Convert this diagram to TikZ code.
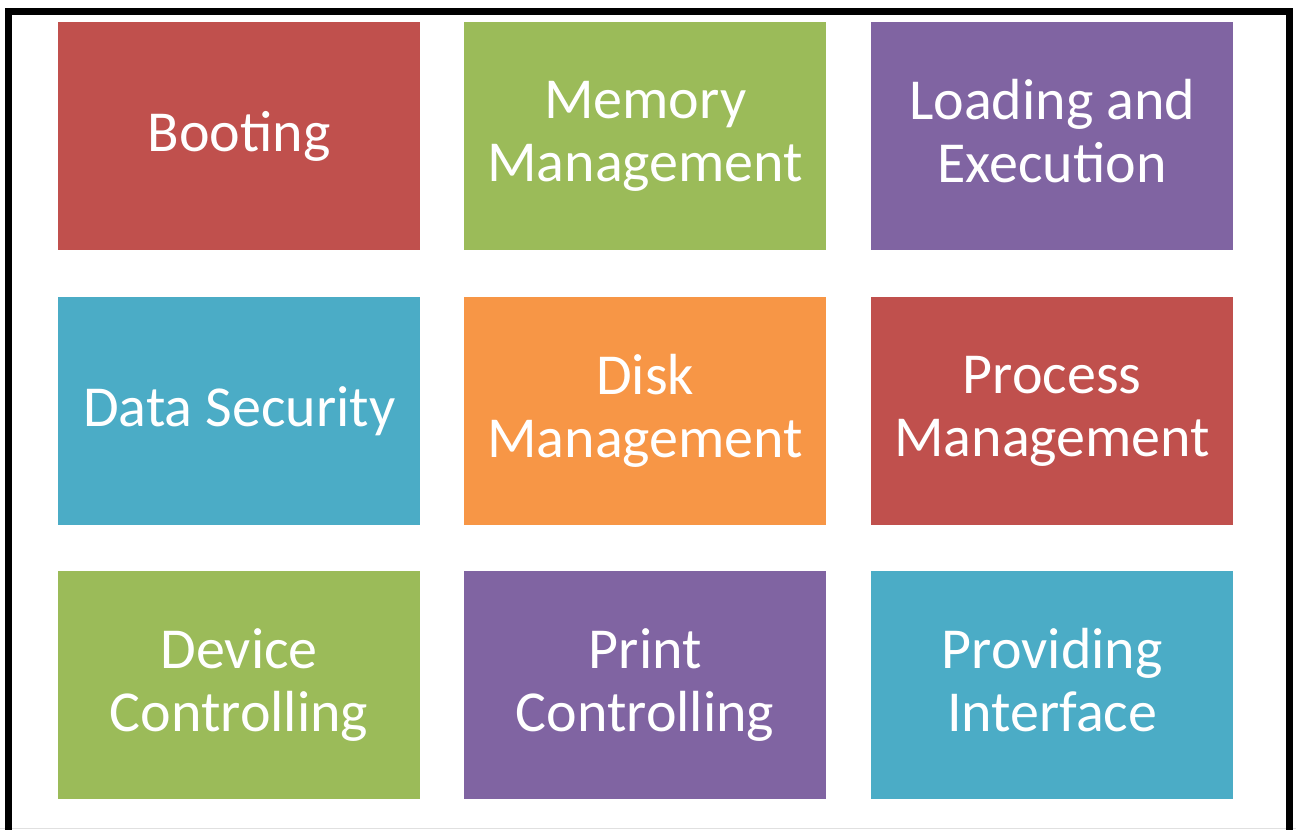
\documentclass[tikz,border=0pt]{standalone}
\usepackage{fontspec}
\setmainfont{Carlito}
\definecolor{cred}{HTML}{C0504D}
\definecolor{cgreen}{HTML}{9BBB59}
\definecolor{cpurple}{HTML}{8064A2}
\definecolor{caqua}{HTML}{4BACC6}
\definecolor{corange}{HTML}{F79646}
\begin{document}
\begin{tikzpicture}[x=1pt,y=-1pt,
  tile/.style={minimum width=362pt, minimum height=228pt, inner sep=0pt, text=white, align=center,
    font=\fontsize{58}{63}\selectfont, anchor=north west}]
\useasboundingbox (0,0) rectangle (1296,830);
\fill[white] (0,0) rectangle (1296,830);
\draw[black!12, line width=1.5pt] (0,828.5) -- (1296,828.5);
\draw[line width=7pt] (8.5,840) -- (8.5,11.5) -- (1289,11.5) -- (1289,840);
\node[tile, fill=cred]    (boot) at (58,22) {Booting};
\node[tile, fill=cgreen]  (mem)  at (464,22) {Memory\\Management};
\node[tile, fill=cpurple] (load) at (871,22) {Loading and\\Execution\vphantom{g}};
\node[tile, fill=caqua]   (sec)  at (58,297) {Data Security};
\node[tile, fill=corange] (disk) at (464,297) {Disk\\Management};
\node[tile, fill=cred]    (proc) at (871,297) {Process\\Management};
\node[tile, fill=cgreen]  (dev)  at (58,571) {Device\\Controlling};
\node[tile, fill=cpurple] (print) at (464,571) {Print\\Controlling};
\node[tile, fill=caqua]   (prov) at (871,571) {Providing\\Interface\vphantom{g}};
\end{tikzpicture}
\end{document}
